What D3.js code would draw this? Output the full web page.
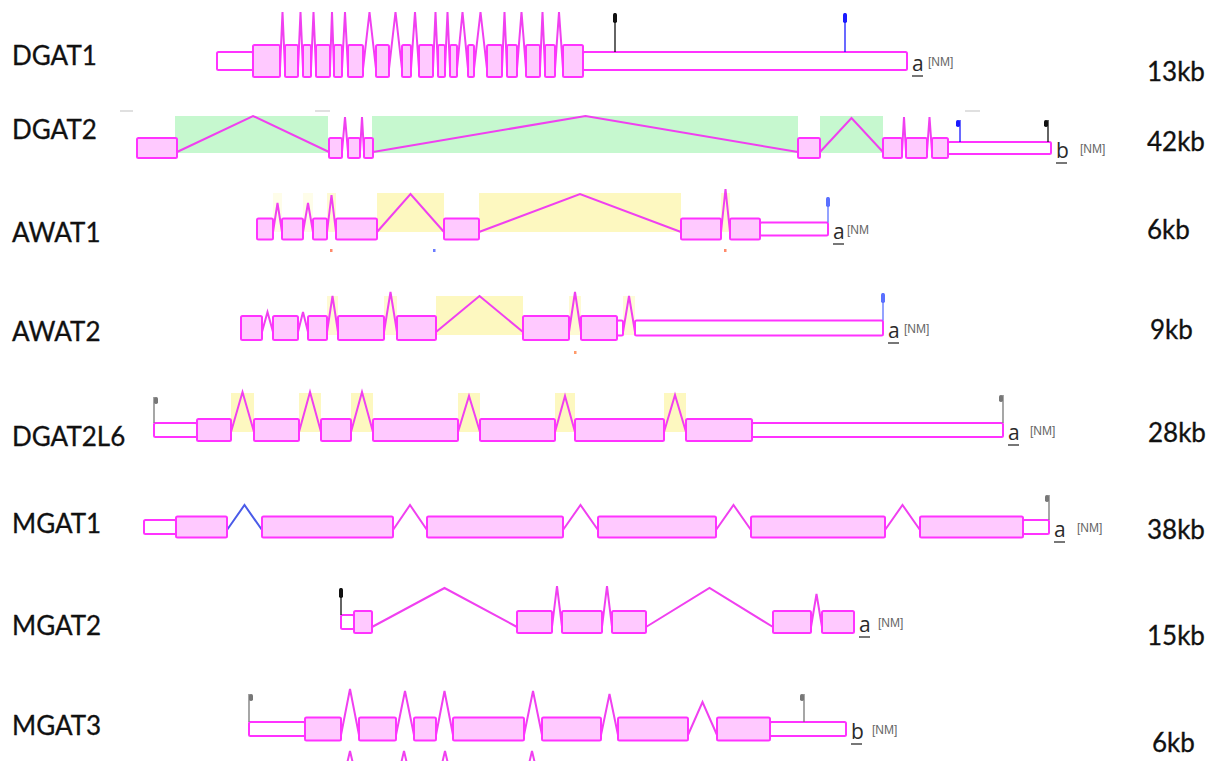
<!DOCTYPE html>
<html><head><meta charset="utf-8">
<script src="https://cdn.jsdelivr.net/npm/d3@7"></script>
<style>body{margin:0;background:#fff}svg{display:block}</style>
</head><body>
<svg id="c" width="1224" height="761"></svg>
<script>
// ---------------- DATA ----------------
const genes = ["DGAT1","DGAT2","AWAT1","AWAT2","DGAT2L6","MGAT1","MGAT2","MGAT3"];
const sizes = ["13kb","42kb","6kb","9kb","28kb","38kb","15kb","6kb"];
const isoforms = ["a","b","a","a","a","a","a","b"];
const refTags = ["[NM]","[NM]","[NM","[NM]","[NM]","[NM]","[NM]","[NM]"];

// exons: [start, end, kind]  kind: c = coding, u = UTR  (genomic position units)
const exonsDGAT1 = [[217,253,"u"],[253,280,"c"],[285,298,"c"],[303,311,"c"],[316,330,"c"],[334,342,"c"],[348,363,"c"],[376,389,"c"],[402,411,"c"],[419,433,"c"],[438,445,"c"],[450,457,"c"],[468,474,"c"],[487,502,"c"],[507,517,"c"],[526,540,"c"],[545,555,"c"],[563,583,"c"],[583,907,"u"]];
const exonsDGAT2 = [[137,177,"c"],[329,342,"c"],[348,360,"c"],[364,373,"c"],[798,820,"c"],[883,902,"c"],[906,927,"c"],[932,948,"c"],[948,1051,"u"]];
const exonsAWAT1 = [[257,273,"c"],[282,303,"c"],[313,327,"c"],[336,377,"c"],[444,479,"c"],[681,721,"c"],[730,760,"c"],[760,828,"u"]];
const exonsAWAT2 = [[241,262,"c"],[273,298,"c"],[308,327,"c"],[338,384,"c"],[397,436,"c"],[523,569,"c"],[581,617,"c"],[617,623,"u"],[635,883,"u"]];
const exonsDGAT2L6 = [[154,197,"u"],[197,231,"c"],[254,299,"c"],[321,351,"c"],[373,458,"c"],[480,555,"c"],[575,664,"c"],[686,752,"c"],[752,1003,"u"]];
const exonsMGAT1 = [[144,176,"u"],[176,227,"c"],[262,393,"c"],[427,563,"c"],[598,716,"c"],[751,885,"c"],[920,1023,"c"],[1023,1049,"u"]];
const exonsMGAT2 = [[341,354,"u"],[354,372,"c"],[517,552,"c"],[562,602,"c"],[612,646,"c"],[773,811,"c"],[822,854,"c"]];
const exonsMGAT3 = [[249,305,"u"],[305,341,"c"],[359,396,"c"],[414,436,"c"],[453,524,"c"],[542,601,"c"],[618,688,"c"],[717,770,"c"],[770,846,"u"]];
const exonSets = [exonsDGAT1,exonsDGAT2,exonsAWAT1,exonsAWAT2,exonsDGAT2L6,exonsMGAT1,exonsMGAT2,exonsMGAT3];

// intron peak heights (above row axis), one per intron
const peaksDGAT1 = [49,49,49,49,49,49,49,49,49,49,49,49,49,49,49,49];
const peaksDGAT2 = [32,31,31,32,30,31,31];
const peaksAWAT1 = [26,26,34,35,35,40];
const peaksAWAT2 = [16,16,32,36,32,36,32];
const peaksDGAT2L6 = [38,38,38,34,34,35];
const peaksMGAT1 = [22,22,22,22,22];
const peaksMGAT2 = [34,36,36,34,28];
const peaksMGAT3 = [40,38,38,38,35,27];
const peakSets = [peaksDGAT1,peaksDGAT2,peaksAWAT1,peaksAWAT2,peaksDGAT2L6,peaksMGAT1,peaksMGAT2,peaksMGAT3];

// highlighted intron regions [start, end, strength]
const shadeDGAT2 = [[175,328,1],[372,798,1],[820,883,1]];
const shadeAWAT1 = [[273,282,0.35],[303,313,0.35],[327,336,0.7],[377,444,1],[479,681,1],[721,730,0.7]];
const shadeAWAT2 = [[327,338,0.7],[384,397,0.7],[436,523,1],[569,581,0.7],[623,635,0.6]];
const shadeDGAT2L6 = [[231,254,1],[299,321,1],[351,373,1],[458,480,1],[555,575,1],[664,686,1]];
const shadeSets = [[],shadeDGAT2,shadeAWAT1,shadeAWAT2,shadeDGAT2L6,[],[],[]];

// markers [position, height, colour, head side]
const markersDGAT1 = [[615,48,"#111111","c"],[845,48,"#1a1aff","c"]];
const markersDGAT2 = [[960,28,"#1a1aff","q"],[1048,28,"#111111","q"]];
const markersAWAT1 = [[828,32,"#5a70ff","c"]];
const markersAWAT2 = [[883,35,"#5a70ff","c"]];
const markersDGAT2L6 = [[154,33,"#777777","p"],[1003,35,"#777777","q"]];
const markersMGAT1 = [[1049,32,"#777777","q"]];
const markersMGAT2 = [[341,34,"#111111","c"]];
const markersMGAT3 = [[249,35,"#777777","p"],[804,35,"#777777","q"]];
const markerSets = [markersDGAT1,markersDGAT2,markersAWAT1,markersAWAT2,markersDGAT2L6,markersMGAT1,markersMGAT2,markersMGAT3];

// small variant dots [gene index, position, colour]
const dots = [[2,331,"#ff8a6a"],[2,434,"#6a7cff"],[2,725,"#ff8a6a"],[3,575,"#ff9a6a"]];
// partial introns of a next row peeking in below MGAT3
const belowPeaks = [350,404,445,532];
// faint grey dashes above DGAT2
const dashesDGAT2 = [[120,133],[315,330],[965,980]];
// blue-coloured introns [gene index, intron index]
const blueIntrons = [[5,0]];

// ---------------- LAYOUT ----------------
const rowCenter = [61,148,229,328,430,527,622,729];
const codingH   = [32,20,21,24,22,21,22,23];
const utrH      = [18,12,13,15,14,14,14,14];
const attachOff = [8,4,3,4,2,3,5,6];
const shadeTop  = [0,32,36,32,37,0,0,0];
const shadeBot  = [0,5,3,7,2,0,0,0];
const nameBase  = [65,139,242,341,446,533,635,735];
const kbBase    = [81,151,239,339,442,539,645,752];
const kbX       = [1147,1147,1147,1150,1148,1147,1147,1152];
const tagGap    = [16,24,14,16,22,23,19,21];

const C = {exStroke:"#ff33ff", exFill:"#ffc9ff", intron:"#f040f0", blue:"#4a5be8",
           yellow:"#fdf8c0", green:"#c6f8cf"};

const svg = d3.select("#c");
const x = d3.scaleLinear().domain([0,1224]).range([0,1224]);
const font = "Lato, 'Open Sans', sans-serif";

genes.forEach((g, i) => {
  const cy = rowCenter[i];
  const y = d3.scaleLinear().domain([0,1]).range([cy, cy-1]); // height above axis -> pixel
  const row = svg.append("g");
  const exons = exonSets[i];

  // shading
  row.selectAll("rect.sh").data(shadeSets[i]).join("rect")
    .attr("x", d => x(d[0])).attr("width", d => x(d[1]) - x(d[0]))
    .attr("y", cy - shadeTop[i]).attr("height", shadeTop[i] + shadeBot[i])
    .attr("fill", i === 1 ? C.green : C.yellow)
    .attr("fill-opacity", d => d[2]);

  // introns
  const introns = [];
  for (let k = 1; k < exons.length; k++) {
    if (exons[k][0] > exons[k-1][1]) introns.push([exons[k-1][1], exons[k][0]]);
  }
  const line = d3.line();
  row.selectAll("path.in").data(introns).join("path")
    .attr("d", (d, k) => {
      const base = cy + attachOff[i];
      const mid = (d[0] + d[1]) / 2;
      return line([[x(d[0]), base], [x(mid), y(peakSets[i][k])], [x(d[1]), base]]);
    })
    .attr("fill", "none")
    .attr("stroke", (d, k) => blueIntrons.some(b => b[0] === i && b[1] === k) ? C.blue : C.intron)
    .attr("stroke-width", 2).attr("stroke-linejoin", "miter");

  // exons
  row.selectAll("rect.ex").data(exons).join("rect")
    .attr("x", d => x(d[0])).attr("width", d => x(d[1]) - x(d[0]))
    .attr("y", d => cy - (d[2] === "c" ? codingH[i] : utrH[i]) / 2)
    .attr("height", d => d[2] === "c" ? codingH[i] : utrH[i])
    .attr("rx", 1.5)
    .attr("fill", d => d[2] === "c" ? C.exFill : "#ffffff")
    .attr("stroke", C.exStroke).attr("stroke-width", 2);

  // markers
  const mk = row.selectAll("g.mk").data(markerSets[i]).join("g");
  mk.append("line")
    .attr("x1", d => x(d[0])).attr("x2", d => x(d[0]))
    .attr("y1", d => y(d[1])).attr("y2", cy - utrH[i] / 2)
    .attr("stroke", d => d[2]).attr("stroke-width", 1.3);
  mk.append("rect")
    .attr("x", d => x(d[0]) + (d[3] === "c" ? -2 : d[3] === "p" ? 0 : -4))
    .attr("y", d => y(d[1]))
    .attr("width", 4).attr("height", d => d[3] === "c" ? 10 : 7).attr("rx", 1.8)
    .attr("fill", d => d[2]);

  // names & sizes
  svg.append("text").attr("x", 12).attr("y", nameBase[i]).text(g)
    .attr("font-family", font).attr("font-size", 26).attr("fill", "#111")
    .attr("stroke", "#111").attr("stroke-width", 0.3);
  svg.append("text").attr("x", kbX[i]).attr("y", kbBase[i]).text(sizes[i])
    .attr("font-family", font).attr("font-size", 26).attr("fill", "#111")
    .attr("stroke", "#111").attr("stroke-width", 0.3);

  // isoform letter + tag
  const endX = x(d3.max(exons, d => d[1]));
  const lx = endX + 5;
  svg.append("text").attr("x", lx).attr("y", cy + 10).text(isoforms[i])
    .attr("font-family", "'Open Sans', sans-serif").attr("font-size", 21).attr("fill", "#2a2a2a");
  svg.append("line").attr("x1", lx).attr("x2", lx + 11).attr("y1", cy + 15).attr("y2", cy + 15)
    .attr("stroke", "#555").attr("stroke-width", 1.6);
  svg.append("text").attr("x", lx + tagGap[i]).attr("y", cy + 5).text(refTags[i])
    .attr("font-family", "'Liberation Sans Narrow', 'Liberation Sans', sans-serif").attr("font-size", 12).attr("fill", "#666");
});

// variant dots
svg.selectAll("rect.dot").data(dots).join("rect")
  .attr("x", d => x(d[1]) - 1).attr("y", d => rowCenter[d[0]] + 20 + (d[0] === 3 ? 3 : 0))
  .attr("width", 2.5).attr("height", 3).attr("fill", d => d[2]);

// dashes over DGAT2
svg.selectAll("line.dash").data(dashesDGAT2).join("line")
  .attr("x1", d => x(d[0])).attr("x2", d => x(d[1]))
  .attr("y1", 111).attr("y2", 111).attr("stroke", "#d6d6d6").attr("stroke-width", 1.5);

// partial peaks at bottom edge
svg.selectAll("path.below").data(belowPeaks).join("path")
  .attr("d", d => d3.line()([[x(d) - 4, 768], [x(d), 751], [x(d) + 4, 768]]))
  .attr("fill", "none").attr("stroke", C.intron).attr("stroke-width", 2);
</script>
</body></html>
